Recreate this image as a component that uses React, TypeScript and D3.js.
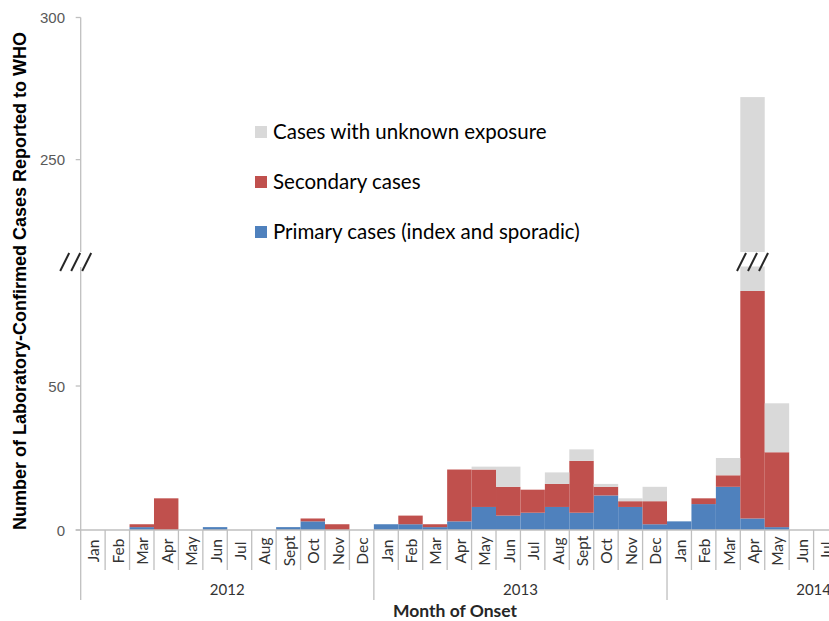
import React from "react";
import * as d3 from "d3";

const years = ["2012", "2013", "2014"];
const months2012 = ["Jan", "Feb", "Mar", "Apr", "May", "Jun", "Jul", "Aug", "Sept", "Oct", "Nov", "Dec"];
const months2013 = ["Jan", "Feb", "Mar", "Apr", "May", "Jun", "Jul", "Aug", "Sept", "Oct", "Nov", "Dec"];
const months2014 = ["Jan", "Feb", "Mar", "Apr", "May", "Jun", "Jul", "Aug", "Sept", "Oct", "Nov", "Dec"];

const primary2012 = [0, 0, 1, 0, 0, 1, 0, 0, 1, 3, 0, 0];
const primary2013 = [2, 2, 1, 3, 8, 5, 6, 8, 6, 12, 8, 2];
const primary2014 = [3, 9, 15, 4, 1, 0, 0, 0, 0, 0, 0, 0];

const secondary2012 = [0, 0, 1, 11, 0, 0, 0, 0, 0, 1, 2, 0];
const secondary2013 = [0, 3, 1, 18, 13, 10, 8, 8, 18, 3, 2, 8];
const secondary2014 = [0, 2, 4, 79, 26, 0, 0, 0, 0, 0, 0, 0];

const unknown2012 = [0, 0, 0, 0, 0, 0, 0, 0, 0, 0, 0, 0];
const unknown2013 = [0, 0, 0, 0, 1, 7, 0, 4, 4, 1, 1, 5];
const unknown2014 = [0, 0, 6, 189, 17, 0, 0, 0, 0, 0, 0, 0];

const yTicks = [0, 50, 250, 300];
const seriesKeys = ["primary", "secondary", "unknown"];
const seriesLabels = ["Primary cases (index and sporadic)", "Secondary cases", "Cases with unknown exposure"];
const colors = ["#4F81BD", "#C0504D", "#D9D9D9"];

const W = 829;
const H = 621;
const X0 = 80.7;
const BAND = 24.43;
const Y0 = 530;
const BREAK_LO = 91.5;
const BREAK_HI = 217.5;

export default function App() {
  const monthLabels = [...months2012, ...months2013, ...months2014];
  const rows = monthLabels.map((m, i) => ({
    idx: i,
    month: m,
    primary: [...primary2012, ...primary2013, ...primary2014][i],
    secondary: [...secondary2012, ...secondary2013, ...secondary2014][i],
    unknown: [...unknown2012, ...unknown2013, ...unknown2014][i],
  }));

  const x = d3
    .scaleBand<number>()
    .domain(rows.map((r) => r.idx))
    .range([X0, X0 + BAND * rows.length])
    .padding(0);

  const yLow = d3.scaleLinear().domain([0, BREAK_LO]).range([Y0, 266.5]);
  const yHigh = d3.scaleLinear().domain([BREAK_HI, 300]).range([252, 17.5]);
  const y = (v: number) => (v <= BREAK_LO ? yLow(v) : yHigh(v));

  const stacked = d3.stack<any>().keys(seriesKeys)(rows);

  const rects: JSX.Element[] = [];
  stacked.forEach((layer, li) => {
    layer.forEach((seg, i) => {
      const a = seg[0];
      const b = seg[1];
      if (b - a <= 0) return;
      const xx = x(rows[i].idx)!;
      const w = x.bandwidth();
      if (a < BREAK_LO) {
        const top = Math.min(b, BREAK_LO);
        rects.push(
          <rect key={`l${li}-${i}`} x={xx} y={yLow(top)} width={w} height={yLow(a) - yLow(top)} fill={colors[li]} />
        );
      }
      if (b > BREAK_HI) {
        const bot = Math.max(a, BREAK_HI);
        rects.push(
          <rect key={`h${li}-${i}`} x={xx} y={yHigh(b)} width={w} height={yHigh(bot) - yHigh(b)} fill={colors[li]} />
        );
      }
    });
  });

  const brokenBars = rows.filter((r) => r.primary + r.secondary + r.unknown > BREAK_HI);

  const breakMarks = (cx: number, key: string) => (
    <g key={key} stroke="#262626" strokeWidth={2}>
      {[-11, 0, 11].map((dx, k) => (
        <line key={k} x1={cx + dx - 4.5} y1={271} x2={cx + dx + 4.5} y2={253} />
      ))}
    </g>
  );

  const axisColor = "#BFBFBF";
  const xEnd = X0 + BAND * rows.length;

  return (
    <svg
      width={W}
      height={H}
      viewBox={`0 0 ${W} ${H}`}
      style={{ position: "absolute", left: 0, top: 0, background: "#fff" }}
    >
      <rect x={0} y={0} width={W} height={H} fill="#fff" />
      {rects}

      {/* x axis */}
      <line x1={75.7} y1={Y0} x2={xEnd} y2={Y0} stroke={axisColor} strokeWidth={1.3} />
      {rows.map((r, i) =>
        i === 0 ? null : (
          <line
            key={`sep${i}`}
            x1={x(r.idx)!}
            x2={x(r.idx)!}
            y1={Y0}
            y2={i % 12 === 0 ? 600 : 570}
            stroke={axisColor}
            strokeWidth={1.3}
          />
        )
      )}
      {rows.map((r) => {
        const cx = x(r.idx)! + x.bandwidth() / 2;
        return (
          <text
            key={`ml${r.idx}`}
            transform={`translate(${cx + 0.5},551) rotate(-90)`}
            textAnchor="middle"
            dominantBaseline="central"
            fontFamily="Lato, 'Open Sans', sans-serif"
            fontSize={15.5}
            fill="#333"
          >
            {r.month}
          </text>
        );
      })}
      {years.map((yr, k) => (
        <text
          key={yr}
          x={X0 + BAND * (12 * k + 6)}
          y={595}
          textAnchor="middle"
          fontFamily="Lato, 'Open Sans', sans-serif"
          fontSize={15}
          fill="#333"
        >
          {yr}
        </text>
      ))}
      <text
        x={455}
        y={617}
        textAnchor="middle"
        fontFamily="Lato, 'Open Sans', sans-serif"
        fontWeight="bold"
        fontSize={17.5}
        fill="#262626"
      >
        Month of Onset
      </text>

      {/* y axis */}
      <line x1={X0} y1={17.5} x2={X0} y2={252} stroke={axisColor} strokeWidth={1.3} />
      <line x1={X0} y1={267} x2={X0} y2={600} stroke={axisColor} strokeWidth={1.3} />
      {yTicks.map((t) => (
        <g key={`yt${t}`}>
          <line x1={75.7} x2={X0} y1={y(t)} y2={y(t)} stroke={axisColor} strokeWidth={1.3} />
          <text
            x={65}
            y={y(t)}
            textAnchor="end"
            dominantBaseline="central"
            fontFamily="'Liberation Sans', Arial, sans-serif"
            fontSize={15}
            fill="#595959"
          >
            {t}
          </text>
        </g>
      ))}
      {breakMarks(X0 - 5, "yaxis-break")}
      {brokenBars.map((r) => breakMarks(x(r.idx)! + x.bandwidth() / 2, `bar-break-${r.idx}`))}

      <text
        transform={`translate(20,281) rotate(-90)`}
        textAnchor="middle"
        dominantBaseline="central"
        fontFamily="'Liberation Sans', Arial, sans-serif"
        fontWeight="bold"
        fontSize={18}
        fill="#000"
      >
        Number of Laboratory-Confirmed Cases Reported to WHO
      </text>

      {/* legend */}
      {[2, 1, 0].map((si, k) => (
        <g key={`lg${si}`}>
          <rect x={255} y={126 + k * 50} width={12} height={12} fill={colors[si]} />
          <text
            x={273}
            y={131 + k * 50}
            dominantBaseline="central"
            fontFamily="Lato, 'Open Sans', sans-serif"
            fontSize={20.5}
            fill="#000"
          >
            {seriesLabels[si]}
          </text>
        </g>
      ))}
    </svg>
  );
}
